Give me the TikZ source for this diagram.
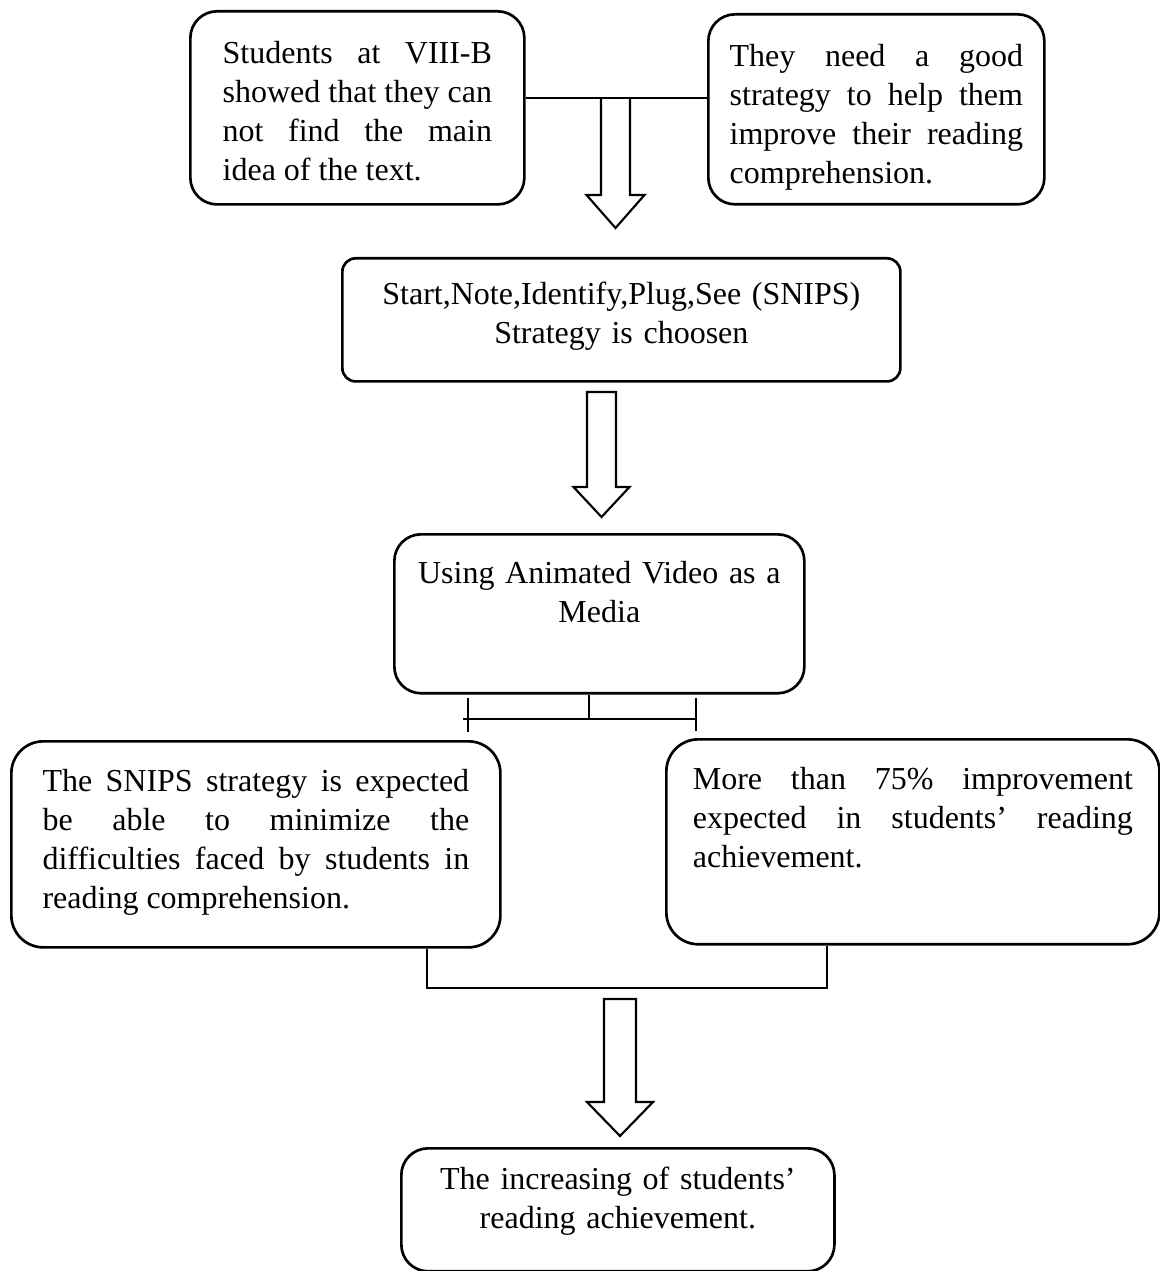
\documentclass[tikz,border=0pt]{standalone}
\usepackage{fontspec}
\setmainfont{Liberation Serif}
\tolerance=9999
\hbadness=10000
\tikzset{
  roundbox/.style={draw, line width=1pt, rounded corners=10pt, inner sep=0pt, anchor=north west, font=\fontsize{12}{14.6}\selectfont},
  hollowarrow/.style={draw, line width=0.8pt, line join=miter},
  link/.style={line width=1pt}
}
\begin{document}
\begin{tikzpicture}[x=0.375pt, y=-0.375pt]
  \useasboundingbox (0,0) rectangle (1159,1271);
  % problem and need
  \node[roundbox, minimum width=125.25pt, text width=101pt, align=justify, text height=19.5pt, text depth=52.9pt] (problem) at (189,10) {Students at VIII-B\linebreak showed that they can\linebreak not find the main\linebreak idea of the text.};
  \node[roundbox, minimum width=126pt, text width=110pt, align=justify, text height=19.5pt, text depth=51.75pt] (need) at (707,13) {They need a good\linebreak strategy to help them\linebreak improve their reading\linebreak comprehension.};
  \coordinate (merge) at (615.5,98);
  \draw[link] (problem.east |- merge) -- (need.west |- merge);
  \draw[hollowarrow, shift={(merge)}] (-14.5,0) -- (-14.5,97) -- (-29,97) -- (0,130) -- (29,97) -- (14.5,97) -- (14.5,0);
  % strategy
  \node[roundbox, rounded corners=5pt, minimum width=209.25pt, text width=200pt, align=center, text height=17.25pt, text depth=28.9pt] (snips) at (341,257) {Start,Note,Identify,Plug,See (SNIPS)\\ Strategy is choosen};
  \draw[hollowarrow, shift={(601.5,392)}] (-14.5,0) -- (-14.5,95) -- (-28,95) -- (0,125) -- (28,95) -- (14.5,95) -- (14.5,0) -- cycle;
  % media
  \node[roundbox, minimum width=153.75pt, text width=150pt, align=center, text height=18.4pt, text depth=41.2pt] (media) at (393,533) {Using Animated Video as a\\ Media};
  \coordinate (split) at (589,719);
  \coordinate (tickl) at (468,719);
  \coordinate (tickr) at (696,719);
  \draw[link] (media.south -| split) -- (split);
  \draw[link] (463,719) -- (tickr);
  \draw[link] (tickl) ++(0,-21) -- ++(0,34);
  \draw[link] (tickr) ++(0,-21) -- ++(0,33);
  % expectations
  \node[roundbox, rounded corners=12pt, minimum width=183.4pt, text width=160pt, align=justify, text height=18.75pt, text depth=58.5pt] (expect) at (10,740) {The SNIPS strategy is expected\linebreak be able to minimize the\linebreak difficulties faced by students in\linebreak reading comprehension.};
  \node[roundbox, rounded corners=12pt, minimum width=184.9pt, text width=165pt, align=justify, text height=18.75pt, text depth=58.1pt] (improve) at (665,738) {More than 75\% improvement\linebreak expected in students' reading\linebreak achievement.};
  \coordinate (joinl) at (427,988);
  \coordinate (joinr) at (827,988);
  \draw[link] (expect.south -| joinl) -- (joinl) -- (joinr) -- (improve.south -| joinr);
  \draw[hollowarrow, shift={(620,999)}] (-16,0) -- (-16,103) -- (-33,103) -- (0,137) -- (33,103) -- (16,103) -- (16,0) -- cycle;
  % result
  \node[roundbox, minimum width=162.4pt, text width=155pt, align=center, text height=15.4pt, text depth=30.7pt] (result) at (400,1147) {The increasing of students'\\ reading achievement.};
\end{tikzpicture}
\end{document}
